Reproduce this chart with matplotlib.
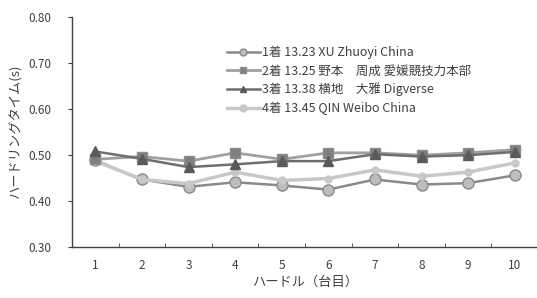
import matplotlib
matplotlib.use("Agg")
import matplotlib.pyplot as plt

plt.rcParams['font.family'] = ['Noto Sans CJK JP', 'DejaVu Sans']

hurdles = [1, 2, 3, 4, 5, 6, 7, 8, 9, 10]
labels = ["1着 13.23 XU Zhuoyi China",
          "2着 13.25 野本　周成 愛媛競技力本部",
          "3着 13.38 横地　大雅 Digverse",
          "4着 13.45 QIN Weibo China"]
s1 = [0.488, 0.446, 0.430, 0.440, 0.433, 0.424, 0.446, 0.435, 0.438, 0.455]
s2 = [0.490, 0.496, 0.486, 0.504, 0.490, 0.504, 0.504, 0.499, 0.504, 0.511]
s3 = [0.507, 0.491, 0.473, 0.479, 0.486, 0.486, 0.501, 0.496, 0.499, 0.506]
s4 = [0.486, 0.446, 0.437, 0.462, 0.444, 0.448, 0.467, 0.453, 0.462, 0.482]

fig = plt.figure(figsize=(5.37, 2.98), dpi=100)
ax = fig.add_axes([72/537, 1-246.5/298, (538-72)/537, (246.5-17)/298])

ax.plot(hurdles, s2, color='#a0a0a0', lw=2, marker='s', ms=7,
        mfc='#7f7f7f', mec='#8c8c8c', label=labels[1], zorder=3)
ax.plot(hurdles, s3, color='#6e6e6e', lw=1.8, marker='^', ms=7,
        mfc='#5a5a5a', mec='#5a5a5a', label=labels[2], zorder=4)
ax.plot(hurdles, s4, color='#c8c8c8', lw=2.5, marker='o', ms=5,
        mfc='#c8c8c8', mec='#c8c8c8', label=labels[3], zorder=2)
ax.plot(hurdles, s1, color='#8a8a8a', lw=1.8, marker='o', ms=8,
        mfc='#bdbdbd', mec='#8a8a8a', label=labels[0], zorder=1)

ax.set_xlim(0.5, 10.5)
ax.set_ylim(0.30, 0.80)
ax.set_yticks([0.30, 0.40, 0.50, 0.60, 0.70, 0.80])
ax.set_yticklabels([f"{v:.2f}" for v in [0.30, 0.40, 0.50, 0.60, 0.70, 0.80]],
                   fontsize=8.5, color='#404040')
ax.set_xticks(hurdles)
ax.set_xticklabels([str(h) for h in hurdles], fontsize=8.5, color='#404040')
ax.set_xticks([h + 0.5 for h in hurdles[:-1]], minor=True)
ax.tick_params(axis='x', which='major', length=0, pad=9)
ax.tick_params(axis='x', which='minor', length=3, direction='in', color='#404040')
ax.tick_params(axis='y', length=3, direction='out', color='#404040', pad=12)

for sp in ['top', 'right']:
    ax.spines[sp].set_visible(False)
for sp in ['left', 'bottom']:
    ax.spines[sp].set_color('#404040')
    ax.spines[sp].set_linewidth(1)

ax.set_xlabel("ハードル（台目）", fontsize=9.5, color='#404040', labelpad=3)
ax.set_ylabel("ハードリングタイム(s)", fontsize=9.5, color='#404040', labelpad=4)

handles, labs = ax.get_legend_handles_labels()
order = [3, 0, 1, 2]
leg = ax.legend([handles[i] for i in order], [labs[i] for i in order],
                loc='upper left', bbox_to_anchor=(0.333, 0.875), frameon=False,
                fontsize=9, handlelength=2.6, labelspacing=0.42, handletextpad=0.15,
                borderaxespad=0, borderpad=0)
for h in leg.legend_handles:
    h.set_markersize(5)
for t in leg.get_texts():
    t.set_color('#404040')

fig.savefig("out.png", dpi=100)
